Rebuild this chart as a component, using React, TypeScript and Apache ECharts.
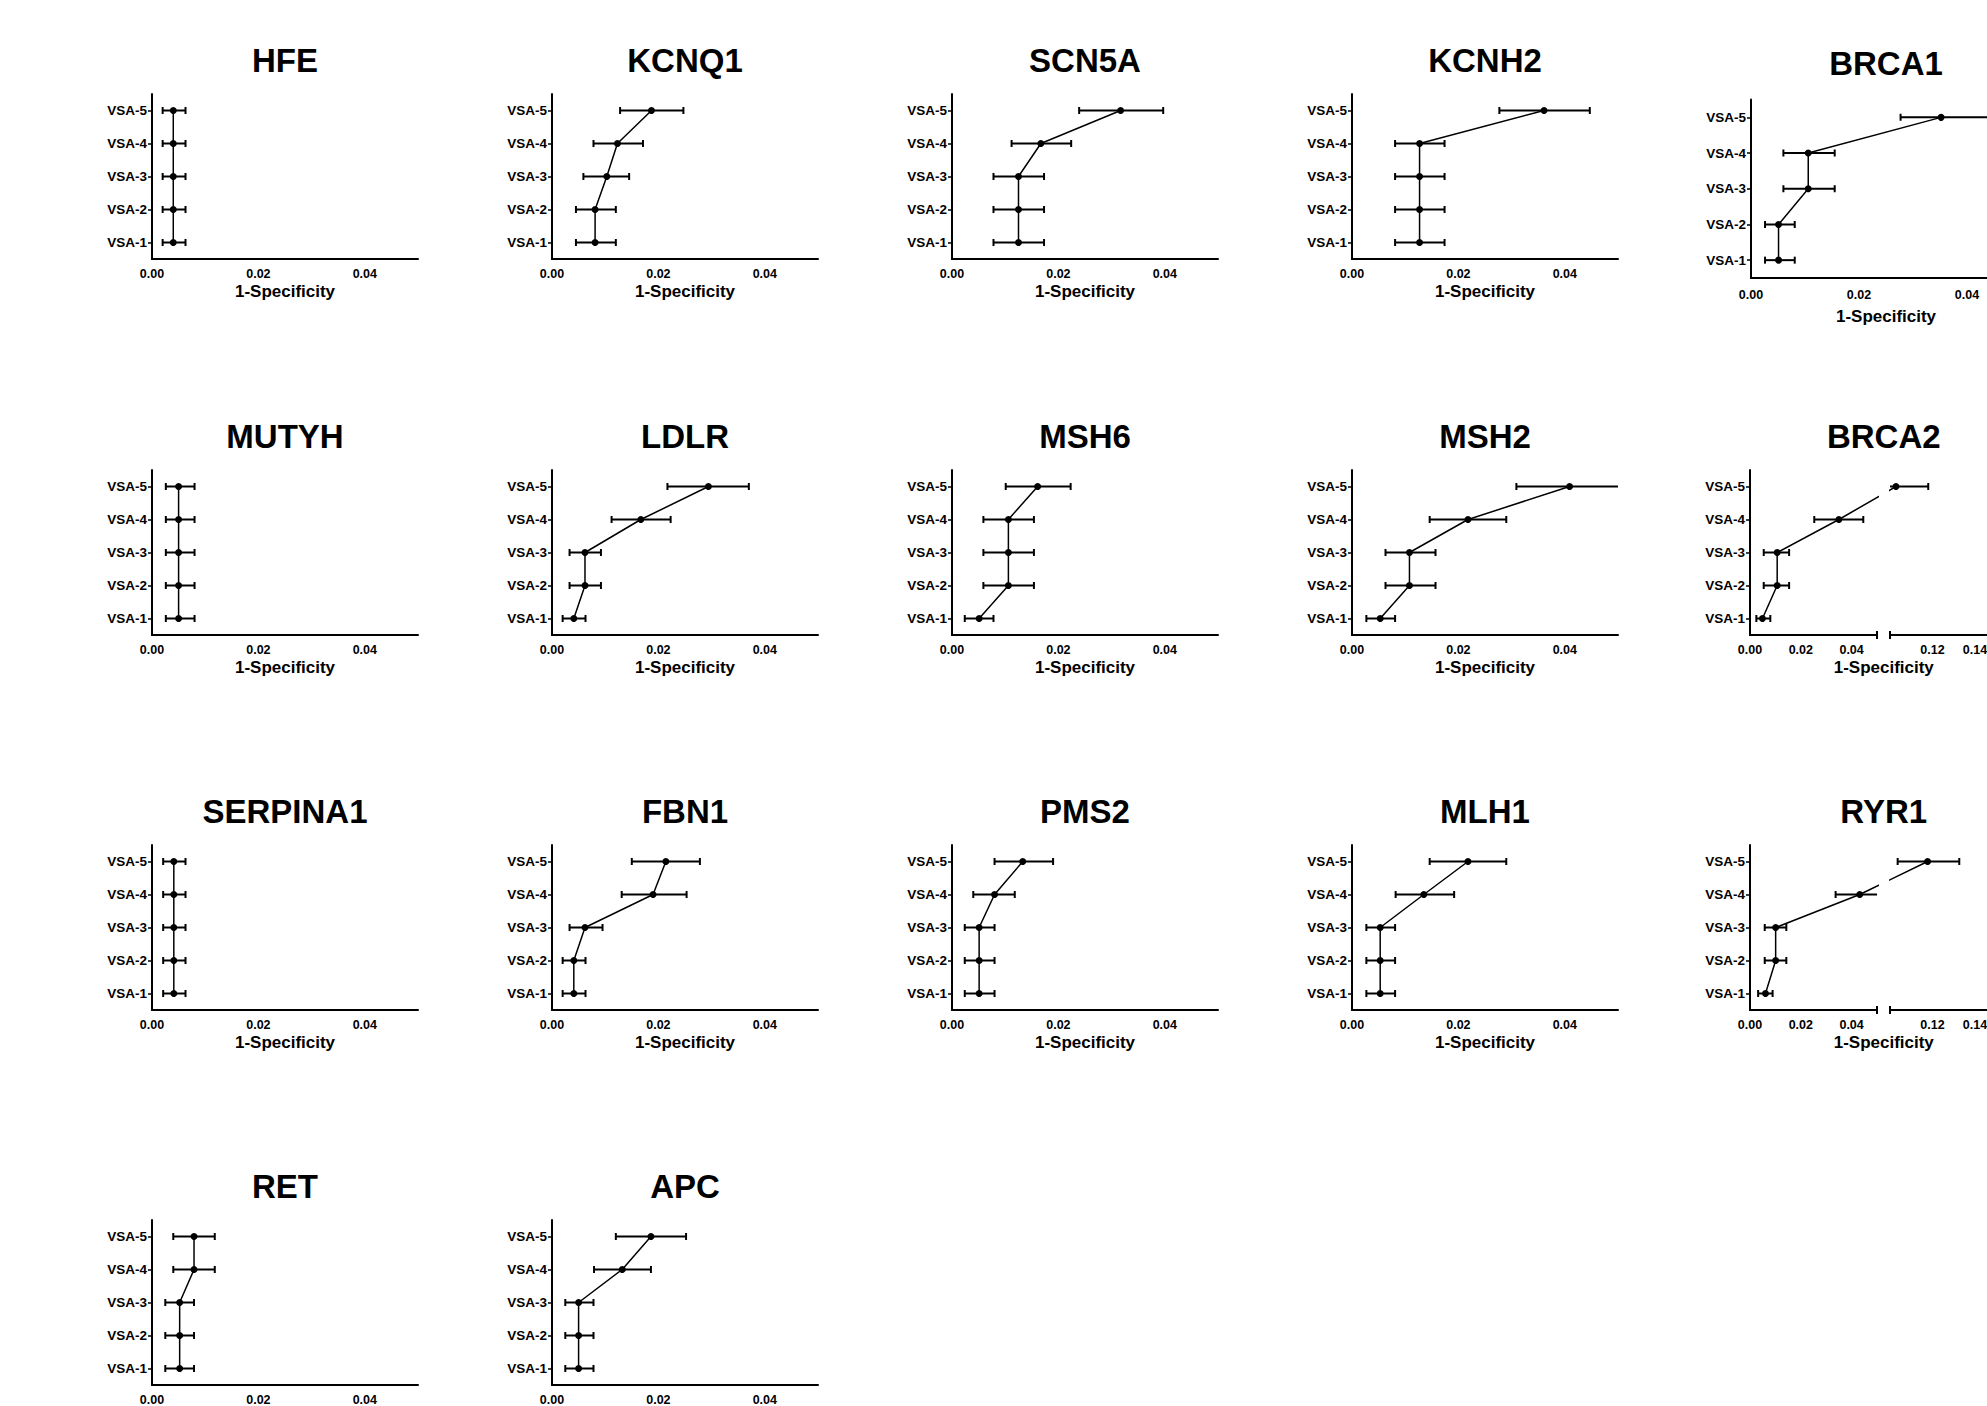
import React, { useEffect, useRef } from "react";
import * as echarts from "echarts";

// ---------------- data ----------------
const CATEGORIES = ["VSA-1", "VSA-2", "VSA-3", "VSA-4", "VSA-5"];
const X_AXIS_TITLE = "1-Specificity";
const X_TICK_STEP = 0.02;

// 1-Specificity estimate and 95% CI (VSA-1 .. VSA-5)
const HFE_EST = [0.004, 0.004, 0.004, 0.004, 0.004];
const HFE_LOW = [0.002, 0.002, 0.002, 0.002, 0.002];
const HFE_HIGH = [0.0063, 0.0063, 0.0063, 0.0063, 0.0063];

const KCNQ1_EST = [0.0081, 0.0081, 0.0103, 0.0123, 0.0187];
const KCNQ1_LOW = [0.0045, 0.0045, 0.0059, 0.0078, 0.0128];
const KCNQ1_HIGH = [0.012, 0.012, 0.0145, 0.0171, 0.0247];

const SCN5A_EST = [0.0125, 0.0125, 0.0125, 0.0167, 0.0317];
const SCN5A_LOW = [0.0078, 0.0078, 0.0078, 0.0112, 0.0239];
const SCN5A_HIGH = [0.0173, 0.0173, 0.0173, 0.0224, 0.0397];

const KCNH2_EST = [0.0127, 0.0127, 0.0127, 0.0127, 0.0361];
const KCNH2_LOW = [0.0081, 0.0081, 0.0081, 0.0081, 0.0277];
const KCNH2_HIGH = [0.0174, 0.0174, 0.0174, 0.0174, 0.0447];

const BRCA1_EST = [0.0051, 0.0051, 0.0106, 0.0106, 0.0352];
const BRCA1_LOW = [0.0026, 0.0026, 0.006, 0.006, 0.0277];
const BRCA1_HIGH = [0.0081, 0.0081, 0.0155, 0.0155, 0.045];

const MUTYH_EST = [0.005, 0.005, 0.005, 0.005, 0.005];
const MUTYH_LOW = [0.0026, 0.0026, 0.0026, 0.0026, 0.0026];
const MUTYH_HIGH = [0.008, 0.008, 0.008, 0.008, 0.008];

const LDLR_EST = [0.0041, 0.0062, 0.0062, 0.0167, 0.0294];
const LDLR_LOW = [0.002, 0.0033, 0.0033, 0.0112, 0.0217];
const LDLR_HIGH = [0.0063, 0.0092, 0.0092, 0.0223, 0.037];

const MSH6_EST = [0.0051, 0.0106, 0.0106, 0.0106, 0.0161];
const MSH6_LOW = [0.0024, 0.0059, 0.0059, 0.0059, 0.0101];
const MSH6_HIGH = [0.0078, 0.0154, 0.0154, 0.0154, 0.0223];

const MSH2_EST = [0.0053, 0.0108, 0.0108, 0.0218, 0.0409];
const MSH2_LOW = [0.0027, 0.0063, 0.0063, 0.0146, 0.0309];
const MSH2_HIGH = [0.0081, 0.0157, 0.0157, 0.029, 0.0515];

const BRCA2_EST = [0.0049, 0.0107, 0.0107, 0.035, 0.1028];
const BRCA2_LOW = [0.0025, 0.0054, 0.0054, 0.0253, 0.0876];
const BRCA2_HIGH = [0.008, 0.0154, 0.0154, 0.0446, 0.118];

const SERPINA1_EST = [0.0041, 0.0041, 0.0041, 0.0041, 0.0041];
const SERPINA1_LOW = [0.0021, 0.0021, 0.0021, 0.0021, 0.0021];
const SERPINA1_HIGH = [0.0063, 0.0063, 0.0063, 0.0063, 0.0063];

const FBN1_EST = [0.0041, 0.0041, 0.0062, 0.019, 0.0214];
const FBN1_LOW = [0.002, 0.002, 0.0033, 0.0131, 0.015];
const FBN1_HIGH = [0.0063, 0.0063, 0.0095, 0.0253, 0.0278];

const PMS2_EST = [0.0051, 0.0051, 0.0051, 0.008, 0.0133];
const PMS2_LOW = [0.0024, 0.0024, 0.0024, 0.004, 0.008];
const PMS2_HIGH = [0.008, 0.008, 0.008, 0.0118, 0.019];

const MLH1_EST = [0.0053, 0.0053, 0.0053, 0.0135, 0.0218];
const MLH1_LOW = [0.0027, 0.0027, 0.0027, 0.0082, 0.0146];
const MLH1_HIGH = [0.0081, 0.0081, 0.0081, 0.0192, 0.029];

const RYR1_EST = [0.0061, 0.0101, 0.0101, 0.0432, 0.1177];
const RYR1_LOW = [0.0032, 0.0058, 0.0058, 0.0337, 0.1036];
const RYR1_HIGH = [0.0089, 0.0143, 0.0143, 0.0527, 0.1326];

const RET_EST = [0.0052, 0.0052, 0.0052, 0.0079, 0.0079];
const RET_LOW = [0.0025, 0.0025, 0.0025, 0.004, 0.004];
const RET_HIGH = [0.0079, 0.0079, 0.0079, 0.0118, 0.0118];

const APC_EST = [0.005, 0.005, 0.005, 0.0132, 0.0186];
const APC_LOW = [0.0025, 0.0025, 0.0025, 0.0079, 0.012];
const APC_HIGH = [0.0078, 0.0078, 0.0078, 0.0186, 0.0252];

// axis ranges
const X_MIN = 0;
const X_MAX = 0.05;
const SEG1_MAX = 0.05; // broken axis: first segment 0 - 0.05
const SEG2_MIN = 0.1; // second segment 0.10 - 0.16
const SEG2_MAX = 0.16;

type Panel = {
  gene: string;
  est: number[];
  low: number[];
  high: number[];
  row: number;
  col: number;
  kind?: "normal" | "tall" | "broken";
};

const PANELS: Panel[] = [
  { gene: "HFE", est: HFE_EST, low: HFE_LOW, high: HFE_HIGH, row: 0, col: 0 },
  { gene: "KCNQ1", est: KCNQ1_EST, low: KCNQ1_LOW, high: KCNQ1_HIGH, row: 0, col: 1 },
  { gene: "SCN5A", est: SCN5A_EST, low: SCN5A_LOW, high: SCN5A_HIGH, row: 0, col: 2 },
  { gene: "KCNH2", est: KCNH2_EST, low: KCNH2_LOW, high: KCNH2_HIGH, row: 0, col: 3 },
  { gene: "BRCA1", est: BRCA1_EST, low: BRCA1_LOW, high: BRCA1_HIGH, row: 0, col: 4, kind: "tall" },
  { gene: "MUTYH", est: MUTYH_EST, low: MUTYH_LOW, high: MUTYH_HIGH, row: 1, col: 0 },
  { gene: "LDLR", est: LDLR_EST, low: LDLR_LOW, high: LDLR_HIGH, row: 1, col: 1 },
  { gene: "MSH6", est: MSH6_EST, low: MSH6_LOW, high: MSH6_HIGH, row: 1, col: 2 },
  { gene: "MSH2", est: MSH2_EST, low: MSH2_LOW, high: MSH2_HIGH, row: 1, col: 3 },
  { gene: "BRCA2", est: BRCA2_EST, low: BRCA2_LOW, high: BRCA2_HIGH, row: 1, col: 4, kind: "broken" },
  { gene: "SERPINA1", est: SERPINA1_EST, low: SERPINA1_LOW, high: SERPINA1_HIGH, row: 2, col: 0 },
  { gene: "FBN1", est: FBN1_EST, low: FBN1_LOW, high: FBN1_HIGH, row: 2, col: 1 },
  { gene: "PMS2", est: PMS2_EST, low: PMS2_LOW, high: PMS2_HIGH, row: 2, col: 2 },
  { gene: "MLH1", est: MLH1_EST, low: MLH1_LOW, high: MLH1_HIGH, row: 2, col: 3 },
  { gene: "RYR1", est: RYR1_EST, low: RYR1_LOW, high: RYR1_HIGH, row: 2, col: 4, kind: "broken" },
  { gene: "RET", est: RET_EST, low: RET_LOW, high: RET_HIGH, row: 3, col: 0 },
  { gene: "APC", est: APC_EST, low: APC_LOW, high: APC_HIGH, row: 3, col: 1 },
];

// ---------------- layout ----------------
const VIEW_W = 1987;
const VIEW_H = 1406;
const CANVAS_W = 2100; // wider than the view: the rightmost panels are cropped as in the reference
const FONT = '"Liberation Sans", Arial, Helvetica, sans-serif';
const COL_X = [152, 552, 952, 1352, 1751];
const ROW_AXIS_Y = [259, 635, 1010, 1385];
const PLOT_W = 266;
const PLOT_H = 165;
const TALL_W = 270;
const TALL_H = 178.5;
const TALL_AXIS_Y = 278;
const SEG1_W = 127;
const SEG_GAP = 13;
const SEG2_W = 127.5;
const TITLE_SIZE = 33;
const AXIS_TITLE_SIZE = 17;

// broken-axis helpers: continue one segment's pixel space across the break
const toSegA = (v: number) => {
  if (v <= SEG1_MAX) return v;
  const px = SEG1_W + SEG_GAP + ((v - SEG2_MIN) / (SEG2_MAX - SEG2_MIN)) * SEG2_W;
  return (px / SEG1_W) * SEG1_MAX;
};
const toSegB = (v: number) => {
  if (v >= SEG2_MIN) return v;
  const px = -(SEG_GAP + ((SEG1_MAX - v) / SEG1_MAX) * SEG1_W);
  return SEG2_MIN + (px / SEG2_W) * (SEG2_MAX - SEG2_MIN);
};

function buildOption() {
  const grids: any[] = [];
  const xAxes: any[] = [];
  const yAxes: any[] = [];
  const series: any[] = [];
  const graphics: any[] = [];

  const addGrid = (
    left: number,
    top: number,
    width: number,
    height: number,
    xMin: number,
    xMax: number,
    showY: boolean,
    labelMargin: number
  ) => {
    const idx = grids.length;
    grids.push({ left, top, width, height });
    xAxes.push({
      gridIndex: idx,
      type: "value",
      min: xMin,
      max: xMax,
      interval: X_TICK_STEP,
      axisLine: { show: true, onZero: false, lineStyle: { color: "#000", width: 2 } },
      axisTick: { show: false },
      splitLine: { show: false },
      axisLabel: {
        showMinLabel: xMin === 0,
        showMaxLabel: false,
        margin: labelMargin,
        color: "#000",
        fontSize: 12.5,
        fontWeight: "bold",
        fontFamily: FONT,
        formatter: (v: number) => v.toFixed(2),
      },
    });
    yAxes.push({
      gridIndex: idx,
      type: "category",
      data: CATEGORIES,
      show: showY,
      axisLine: { show: true, lineStyle: { color: "#000", width: 2 } },
      axisTick: { show: true, alignWithLabel: true, length: 4, lineStyle: { color: "#000", width: 1.5 } },
      splitLine: { show: false },
      axisLabel: {
        margin: 5,
        color: "#000",
        fontSize: 13.5,
        fontWeight: "bold",
        fontFamily: FONT,
      },
    });
    return idx;
  };

  const addSeries = (idx: number, p: Panel, mapX: (v: number) => number) => {
    series.push({
      type: "custom",
      xAxisIndex: idx,
      yAxisIndex: idx,
      clip: true,
      z: 2,
      encode: { x: [0, 1], y: 2 },
      data: p.low.map((l, i) => [l, p.high[i], i]),
      renderItem: (_params: any, api: any) => {
        const yi = api.value(2);
        const a = api.coord([api.value(0), yi]);
        const b = api.coord([api.value(1), yi]);
        const c = 3.5;
        const st = { stroke: "#000", lineWidth: 2 };
        return {
          type: "group",
          children: [
            { type: "line", shape: { x1: a[0], y1: a[1], x2: b[0], y2: b[1] }, style: st },
            { type: "line", shape: { x1: a[0], y1: a[1] - c, x2: a[0], y2: a[1] + c }, style: st },
            { type: "line", shape: { x1: b[0], y1: b[1] - c, x2: b[0], y2: b[1] + c }, style: st },
          ],
        };
      },
    });
    series.push({
      type: "line",
      name: p.gene,
      xAxisIndex: idx,
      yAxisIndex: idx,
      clip: true,
      z: 3,
      data: p.est.map((v, i) => [mapX(v), i]),
      symbol: "circle",
      symbolSize: 7,
      itemStyle: { color: "#000" },
      lineStyle: { color: "#000", width: 1.5 },
    });
  };

  const addText = (text: string, x: number, y: number, size: number) => {
    if (y + size / 2 > VIEW_H) return; // falls outside the picture, as in the reference
    graphics.push({
      type: "text",
      x,
      y,
      style: {
        text,
        fill: "#000",
        fontSize: size,
        fontWeight: "bold",
        fontFamily: FONT,
        align: "center",
        verticalAlign: "middle",
      },
    });
  };

  for (const p of PANELS) {
    const left = COL_X[p.col];
    if (p.kind === "tall") {
      const top = TALL_AXIS_Y - TALL_H;
      const idx = addGrid(left, top, TALL_W, TALL_H, X_MIN, X_MAX, true, 10);
      addSeries(idx, p, (v) => v);
      addText(p.gene, left + TALL_W / 2, top - 36, TITLE_SIZE);
      addText(X_AXIS_TITLE, left + TALL_W / 2, TALL_AXIS_Y + 38, AXIS_TITLE_SIZE);
    } else if (p.kind === "broken") {
      const axisY = ROW_AXIS_Y[p.row];
      const top = axisY - PLOT_H;
      const l0 = left - 1;
      const ia = addGrid(l0, top, SEG1_W, PLOT_H, X_MIN, SEG1_MAX, true, 8);
      addSeries(ia, p, toSegA);
      const lb = l0 + SEG1_W + SEG_GAP;
      const ib = addGrid(lb, top, SEG2_W, PLOT_H, SEG2_MIN, SEG2_MAX, false, 8);
      addSeries(ib, p, toSegB);
      // break marks
      for (const bx of [l0 + SEG1_W, lb]) {
        graphics.push({
          type: "line",
          shape: { x1: bx, y1: axisY - 4, x2: bx, y2: axisY + 4 },
          style: { stroke: "#000", lineWidth: 2 },
        });
      }
      const cx = (l0 + lb + SEG2_W) / 2;
      addText(p.gene, cx, top - 34, TITLE_SIZE);
      addText(X_AXIS_TITLE, cx, axisY + 32, AXIS_TITLE_SIZE);
    } else {
      const axisY = ROW_AXIS_Y[p.row];
      const top = axisY - PLOT_H;
      const idx = addGrid(left, top, PLOT_W, PLOT_H, X_MIN, X_MAX, true, 8);
      addSeries(idx, p, (v) => v);
      addText(p.gene, left + PLOT_W / 2, top - 34, TITLE_SIZE);
      addText(X_AXIS_TITLE, left + PLOT_W / 2, axisY + 32, AXIS_TITLE_SIZE);
    }
  }

  return {
    animation: false,
    backgroundColor: "#fff",
    grid: grids,
    xAxis: xAxes,
    yAxis: yAxes,
    series,
    graphic: graphics,
  };
}

export default function App() {
  const ref = useRef<HTMLDivElement>(null);
  useEffect(() => {
    document.body.style.margin = "0";
    document.body.style.overflow = "hidden";
    document.documentElement.style.overflow = "hidden";
    if (!ref.current) return;
    const chart = echarts.init(ref.current, undefined, { renderer: "svg" });
    chart.setOption(buildOption() as any);
    return () => chart.dispose();
  }, []);
  return (
    <div style={{ width: VIEW_W, height: VIEW_H, overflow: "hidden", background: "#fff" }}>
      <div ref={ref} style={{ width: CANVAS_W, height: VIEW_H, background: "#fff" }} />
    </div>
  );
}
